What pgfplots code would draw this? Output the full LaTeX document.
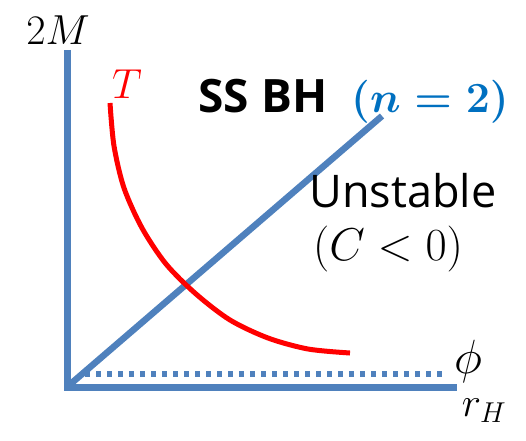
\RequirePackage{fix-cm}
\documentclass[border=0pt]{standalone}
\usepackage{pgfplots}
\pgfplotsset{compat=1.18}
\usepackage{amsmath}
\usepackage{fontspec}
\setmainfont{Open Sans}
\definecolor{axblue}{HTML}{4F81BD}
\definecolor{nblue}{HTML}{0070C0}
\begin{document}
\begin{tikzpicture}[x=1pt,y=1pt]
\begin{axis}[
  width=526pt, height=440pt, scale only axis,
  xmin=0, xmax=526, ymin=0, ymax=440,
  hide axis, clip=false,
]
% frame of the picture
\addplot[draw=none, forget plot] coordinates {(0,0) (526,440)};
% 2M and r_H axes
\addplot[axblue, line width=7pt, line join=miter] coordinates {(67,390) (67,53) (457,53)};
% SS BH branch
\addplot[axblue, line width=6.5pt] coordinates {(67,53) (382,324)};
% phi = 0
\addplot[axblue, line width=5.5pt, dash pattern=on 5pt off 6pt] coordinates {(85,66) (442,66)};
% temperature
\addplot[red, line width=5pt, smooth] coordinates {
  (110,337) (114,294) (124,252) (142,212) (166,176) (196,146)
  (230,120) (268,102) (308,91) (350,87)};
\node[anchor=base] at (axis cs:58,395) {\fontsize{42}{48}\selectfont $2M$};
\node[anchor=base, text=red] at (axis cs:127,342) {\fontsize{42}{48}\selectfont $T$};
\node[anchor=base] at (axis cs:263,328) {\fontsize{46}{52}\selectfont\bfseries SS BH};
\node[anchor=base, text=nblue] at (axis cs:430,328) {\fontsize{43}{50}\selectfont $\boldsymbol{(n=2)}$};
\node[anchor=base] at (axis cs:403,233) {\fontsize{45}{52}\selectfont Unstable};
\node[anchor=base] at (axis cs:388,180) {\fontsize{46}{52}\selectfont $(C<0)$};
\node[anchor=center] at (axis cs:468,79) {\fontsize{48}{54}\selectfont $\phi$};
\node[anchor=center] at (axis cs:484,29) {\fontsize{41}{46}\selectfont $r_H$};
\end{axis}
\end{tikzpicture}
\end{document}
